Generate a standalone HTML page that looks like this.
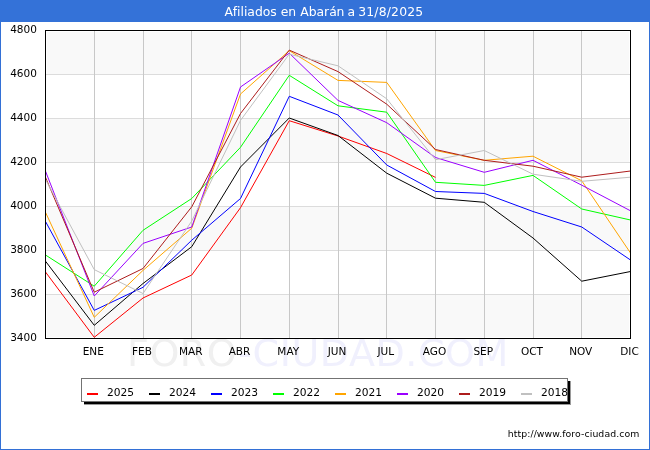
<!DOCTYPE html>
<html lang="es"><head><meta charset="utf-8"><title>Afiliados en Abarán a 31/8/2025</title>
<style>
html,body{margin:0;padding:0;background:#fff;}
body{width:650px;height:450px;overflow:hidden;position:relative;font-family:"DejaVu Sans","Liberation Sans",sans-serif;color:#000;}
#frame{position:absolute;left:0;top:0;width:648px;height:448px;border:1px solid #3370d6;background:#fff;}
#title{position:absolute;left:0;top:0;width:650px;height:22px;background:#3472d8;color:#fff;font-size:12.4px;line-height:24px;text-align:center;white-space:nowrap;}
#title span{position:absolute;left:224.6px;top:0;}
#title em{font-style:normal;letter-spacing:-0.4px;}
#title u{text-decoration:none;letter-spacing:0.2px;}
svg{position:absolute;left:0;top:0;}
.yl{position:absolute;left:0;width:36.9px;text-align:right;font-size:10.5px;line-height:12px;height:12px;}
.xl{position:absolute;width:60px;text-align:center;font-size:10.5px;line-height:12px;height:12px;top:345px;}
#wm{position:absolute;left:127px;top:331px;font-size:38px;line-height:44px;letter-spacing:0.55px;white-space:nowrap;color:#f0f0fd;}
#wm b{font-weight:normal;color:#f0f0f0;}
#lgs{position:absolute;left:84px;top:381px;width:487px;height:24px;background:#9a9a9a;}
#lgs i{position:absolute;left:0;top:0;width:486px;height:23px;background:#000;}
#lg{position:absolute;left:81px;top:378px;width:485px;height:22px;border:1px solid #737373;background:#fff;}
.lm{position:absolute;top:393px;width:11px;height:2px;}
.lt{position:absolute;top:387px;font-size:10.67px;line-height:12px;height:12px;white-space:nowrap;}
#url{position:absolute;left:507.7px;top:428px;font-size:9.33px;line-height:12px;letter-spacing:0.085px;white-space:nowrap;}
</style></head><body>
<div id="frame"></div>
<div id="title"><span>Afiliados en Abar<em>án a </em><u>31/8/2025</u></span></div>
<div id="wm"><b>FORO</b>-CIUDAD.COM</div>
<svg width="650" height="450" viewBox="0 0 650 450">
<rect x="47" y="32" width="582" height="42" fill="#f9f9f9"/>
<rect x="47" y="118" width="582" height="44" fill="#f9f9f9"/>
<rect x="47" y="206" width="582" height="44" fill="#f9f9f9"/>
<rect x="47" y="294" width="582" height="43" fill="#f9f9f9"/>
<line x1="46" x2="630" y1="74.5" y2="74.5" stroke="#dcdcdc" stroke-width="1"/>
<line x1="46" x2="630" y1="118.5" y2="118.5" stroke="#dcdcdc" stroke-width="1"/>
<line x1="46" x2="630" y1="162.5" y2="162.5" stroke="#dcdcdc" stroke-width="1"/>
<line x1="46" x2="630" y1="206.5" y2="206.5" stroke="#dcdcdc" stroke-width="1"/>
<line x1="46" x2="630" y1="250.5" y2="250.5" stroke="#dcdcdc" stroke-width="1"/>
<line x1="46" x2="630" y1="294.5" y2="294.5" stroke="#dcdcdc" stroke-width="1"/>
<line x1="94.5" x2="94.5" y1="31" y2="338" stroke="#c8c8c8" stroke-width="1"/>
<line x1="143.5" x2="143.5" y1="31" y2="338" stroke="#c8c8c8" stroke-width="1"/>
<line x1="191.5" x2="191.5" y1="31" y2="338" stroke="#c8c8c8" stroke-width="1"/>
<line x1="240.5" x2="240.5" y1="31" y2="338" stroke="#c8c8c8" stroke-width="1"/>
<line x1="289.5" x2="289.5" y1="31" y2="338" stroke="#c8c8c8" stroke-width="1"/>
<line x1="338.5" x2="338.5" y1="31" y2="338" stroke="#c8c8c8" stroke-width="1"/>
<line x1="386.5" x2="386.5" y1="31" y2="338" stroke="#c8c8c8" stroke-width="1"/>
<line x1="435.5" x2="435.5" y1="31" y2="338" stroke="#c8c8c8" stroke-width="1"/>
<line x1="484.5" x2="484.5" y1="31" y2="338" stroke="#c8c8c8" stroke-width="1"/>
<line x1="533.5" x2="533.5" y1="31" y2="338" stroke="#c8c8c8" stroke-width="1"/>
<line x1="581.5" x2="581.5" y1="31" y2="338" stroke="#c8c8c8" stroke-width="1"/>
<g fill="none" stroke-width="1" stroke-linejoin="round">
<polyline points="45.50,272 94.25,337.3 143.00,298 191.75,275 240.50,207.7 289.25,120.7 338.00,136 386.75,153.5 435.50,177.4" stroke="#ff0000"/>
<polyline points="45.50,261.2 94.25,325.3 143.00,283.5 191.75,246.7 240.50,167 289.25,118 338.00,135.5 386.75,173.2 435.50,198.2 484.25,202.3 533.00,238 581.75,281.2 630.50,271.5" stroke="#000000"/>
<polyline points="45.50,221.5 94.25,310.4 143.00,287.3 191.75,240.2 240.50,198.5 289.25,96.3 338.00,115 386.75,165 435.50,191.5 484.25,193.4 533.00,211.5 581.75,227 630.50,260" stroke="#0000ff"/>
<polyline points="45.50,255 94.25,286.2 143.00,230.3 191.75,198.5 240.50,147.3 289.25,75.3 338.00,105.8 386.75,112.2 435.50,182.3 484.25,185.4 533.00,175.4 581.75,209 630.50,220" stroke="#00ff00"/>
<polyline points="45.50,212.3 94.25,317.3 143.00,270.4 191.75,228.2 240.50,94 289.25,50.7 338.00,80.4 386.75,82.4 435.50,150.5 484.25,160.3 533.00,156.2 581.75,180.8 630.50,253" stroke="#ffa500"/>
<polyline points="45.50,171.2 94.25,296 143.00,243.4 191.75,227 240.50,87 289.25,53.2 338.00,100.4 386.75,122.7 435.50,157.5 484.25,172.3 533.00,160.3 581.75,185.2 630.50,210.8" stroke="#9a00ff"/>
<polyline points="45.50,177.3 94.25,292.2 143.00,268.5 191.75,206.8 240.50,113.5 289.25,50.1 338.00,71.6 386.75,104.2 435.50,149.5 484.25,160.3 533.00,166.2 581.75,177.2 630.50,171" stroke="#ad1c1c"/>
<polyline points="45.50,179.5 94.25,269.6 143.00,293.5 191.75,221 240.50,120.4 289.25,54.2 338.00,65.8 386.75,98.8 435.50,159.7 484.25,150.5 533.00,174.2 581.75,181.3 630.50,177.2" stroke="#c0c0c0"/>
</g>
<rect x="45.5" y="30.5" width="585" height="308" fill="none" stroke="#000" stroke-width="1"/>
</svg>
<div class="yl" style="top:23.0px">4800</div>
<div class="yl" style="top:67.0px">4600</div>
<div class="yl" style="top:111.0px">4400</div>
<div class="yl" style="top:155.0px">4200</div>
<div class="yl" style="top:199.0px">4000</div>
<div class="yl" style="top:243.0px">3800</div>
<div class="yl" style="top:287.0px">3600</div>
<div class="yl" style="top:331.0px">3400</div>
<div class="xl" style="left:63.25px">ENE</div>
<div class="xl" style="left:112.00px">FEB</div>
<div class="xl" style="left:160.75px">MAR</div>
<div class="xl" style="left:209.50px">ABR</div>
<div class="xl" style="left:258.25px">MAY</div>
<div class="xl" style="left:307.00px">JUN</div>
<div class="xl" style="left:355.75px">JUL</div>
<div class="xl" style="left:404.50px">AGO</div>
<div class="xl" style="left:453.25px">SEP</div>
<div class="xl" style="left:502.00px">OCT</div>
<div class="xl" style="left:550.75px">NOV</div>
<div class="xl" style="left:599.50px">DIC</div>
<div id="lgs"><i></i></div><div id="lg"></div>
<div class="lm" style="left:87px;background:#ff0000"></div><div class="lt" style="left:107px">2025</div>
<div class="lm" style="left:149px;background:#000000"></div><div class="lt" style="left:169px">2024</div>
<div class="lm" style="left:211px;background:#0000ff"></div><div class="lt" style="left:231px">2023</div>
<div class="lm" style="left:273px;background:#00ff00"></div><div class="lt" style="left:293px">2022</div>
<div class="lm" style="left:335px;background:#ffa500"></div><div class="lt" style="left:355px">2021</div>
<div class="lm" style="left:397px;background:#9a00ff"></div><div class="lt" style="left:417px">2020</div>
<div class="lm" style="left:459px;background:#ad1c1c"></div><div class="lt" style="left:479px">2019</div>
<div class="lm" style="left:521px;background:#c0c0c0"></div><div class="lt" style="left:541px">2018</div>
<div id="url">http://www.foro-ciudad.com</div>
</body></html>
